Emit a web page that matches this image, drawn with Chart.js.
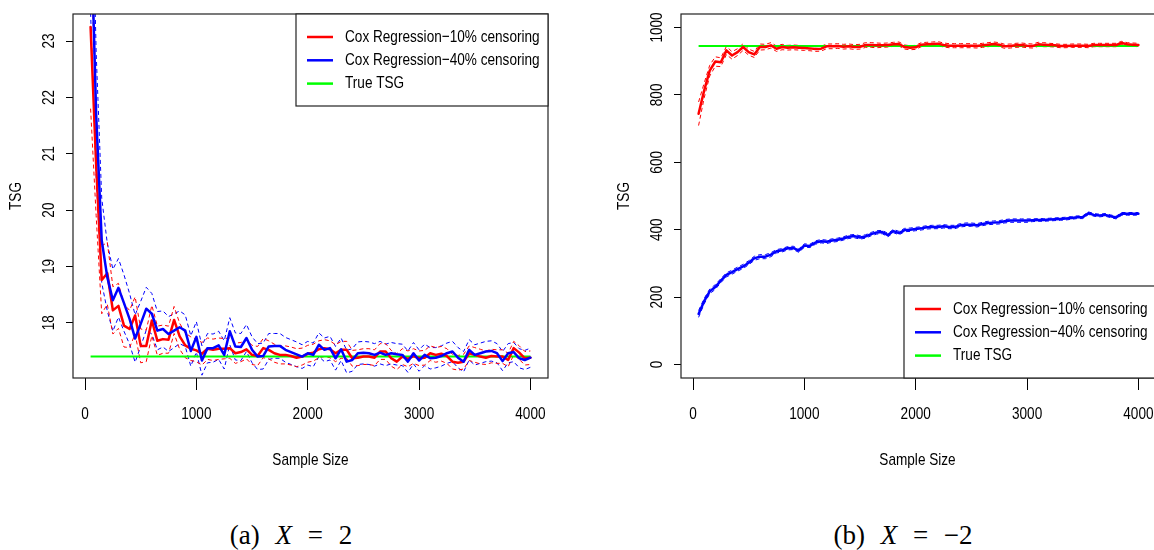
<!DOCTYPE html>
<html>
<head>
<meta charset="utf-8">
<script src="https://cdn.jsdelivr.net/npm/chart.js@4.4.1/dist/chart.umd.min.js"></script>
<style>
  html, body { margin: 0; padding: 0; background: #fff; width: 1154px; height: 550px; overflow: hidden; }
  #wrap { position: relative; width: 1154px; height: 550px; }
  canvas { position: absolute; top: 0; }
  #leftChart { left: 0; }
  #rightChart { left: 580px; }
  .caption { position: absolute; top: 519px; width: 300px; text-align: center; white-space: nowrap;
             font-family: "Liberation Serif", "DejaVu Serif", serif; font-size: 27px; line-height: 32px;
             word-spacing: 9px; }
</style>
</head>
<body>
<div id="wrap">
  <canvas id="leftChart" width="560" height="480"></canvas>
  <canvas id="rightChart" width="590" height="480"></canvas>
  <div class="caption" style="left:141px">(a) <i>X</i> = 2</div>
  <div class="caption" style="left:753px">(b) <i>X</i> = −2</div>
</div>
<script>
// sample sizes on the x axis
const sampleSizes = [
  50, 100, 150, 200, 250, 300, 350, 400, 450, 500,
  550, 600, 650, 700, 750, 800, 850, 900, 950, 1000,
  1050, 1100, 1150, 1200, 1250, 1300, 1350, 1400, 1450, 1500,
  1550, 1600, 1650, 1700, 1750, 1800, 1850, 1900, 1950, 2000,
  2050, 2100, 2150, 2200, 2250, 2300, 2350, 2400, 2450, 2500,
  2550, 2600, 2650, 2700, 2750, 2800, 2850, 2900, 2950, 3000,
  3050, 3100, 3150, 3200, 3250, 3300, 3350, 3400, 3450, 3500,
  3550, 3600, 3650, 3700, 3750, 3800, 3850, 3900, 3950, 4000
];
const xTicks = [0, 1000, 2000, 3000, 4000];

// (a) X = 2
const leftYTicks = [18, 19, 20, 21, 22, 23];
const leftTrueTsg = 17.4;
const leftCox10 = [
  23.25, 20.80, 18.76, 18.88, 18.22, 18.30, 17.95, 17.89, 18.13, 17.59,
  17.59, 18.04, 17.68, 17.71, 17.70, 18.05, 17.76, 17.60, 17.54, 17.51,
  17.45, 17.54, 17.52, 17.54, 17.54, 17.55, 17.46, 17.48, 17.53, 17.43,
  17.41, 17.55, 17.52, 17.46, 17.43, 17.43, 17.41, 17.38, 17.40, 17.45,
  17.47, 17.53, 17.55, 17.53, 17.46, 17.52, 17.52, 17.37, 17.38, 17.40,
  17.40, 17.38, 17.49, 17.49, 17.37, 17.31, 17.40, 17.36, 17.41, 17.37,
  17.38, 17.46, 17.43, 17.45, 17.41, 17.31, 17.29, 17.31, 17.46, 17.43,
  17.40, 17.38, 17.41, 17.40, 17.40, 17.34, 17.55, 17.47, 17.37, 17.38
];
const leftCox40 = [
  25.30, 21.70, 19.46, 18.81, 18.40, 18.62, 18.35, 18.07, 17.72, 17.98,
  18.25, 18.16, 17.86, 17.89, 17.80, 17.86, 17.92, 17.86, 17.50, 17.75,
  17.33, 17.55, 17.55, 17.60, 17.43, 17.85, 17.58, 17.57, 17.73, 17.52,
  17.40, 17.41, 17.58, 17.59, 17.59, 17.52, 17.48, 17.44, 17.40, 17.46,
  17.43, 17.61, 17.52, 17.55, 17.37, 17.53, 17.31, 17.34, 17.46, 17.47,
  17.46, 17.43, 17.47, 17.43, 17.46, 17.44, 17.43, 17.31, 17.46, 17.33,
  17.43, 17.37, 17.38, 17.41, 17.46, 17.49, 17.38, 17.31, 17.52, 17.43,
  17.46, 17.49, 17.50, 17.46, 17.32, 17.46, 17.48, 17.37, 17.34, 17.38
];
// half width of the dashed bands around each curve
const leftCox10Band = [
  1.45, 0.90, 0.60, 0.55, 0.42, 0.40, 0.38, 0.33, 0.33, 0.30,
  0.28, 0.27, 0.26, 0.25, 0.24, 0.24, 0.23, 0.22, 0.21, 0.20,
  0.20, 0.19, 0.19, 0.19, 0.18, 0.18, 0.18, 0.17, 0.17, 0.17,
  0.17, 0.17, 0.16, 0.16, 0.16, 0.16, 0.16, 0.16, 0.15, 0.15,
  0.15, 0.15, 0.15, 0.15, 0.15, 0.15, 0.15, 0.14, 0.14, 0.14,
  0.14, 0.14, 0.14, 0.14, 0.14, 0.14, 0.14, 0.14, 0.13, 0.13,
  0.13, 0.13, 0.13, 0.13, 0.13, 0.13, 0.13, 0.13, 0.13, 0.13,
  0.13, 0.12, 0.12, 0.12, 0.12, 0.12, 0.12, 0.12, 0.12, 0.12
];
const leftCox40Band = [
  1.80, 1.10, 0.75, 0.60, 0.55, 0.52, 0.50, 0.45, 0.42, 0.40,
  0.38, 0.36, 0.34, 0.32, 0.31, 0.30, 0.29, 0.28, 0.27, 0.27,
  0.26, 0.26, 0.25, 0.25, 0.25, 0.24, 0.24, 0.24, 0.24, 0.23,
  0.23, 0.23, 0.23, 0.22, 0.22, 0.22, 0.22, 0.22, 0.21, 0.21,
  0.21, 0.21, 0.21, 0.21, 0.21, 0.20, 0.20, 0.20, 0.20, 0.20,
  0.20, 0.20, 0.20, 0.19, 0.19, 0.19, 0.19, 0.19, 0.19, 0.19,
  0.19, 0.19, 0.18, 0.18, 0.18, 0.18, 0.18, 0.18, 0.18, 0.18,
  0.18, 0.18, 0.18, 0.17, 0.17, 0.17, 0.17, 0.17, 0.17, 0.17
];

// (b) X = -2
const rightYTicks = [0, 200, 400, 600, 800, 1000];
const rightTrueTsg = 945;
const rightCox10 = [
  744, 813, 872, 899, 897, 932, 917, 927, 942, 927,
  920, 942, 942, 947, 937, 942, 940, 941, 940, 939,
  938, 936, 937, 944, 944, 945, 943, 944, 942, 943,
  948, 948, 947, 947, 948, 950, 951, 942, 940, 941,
  949, 950, 951, 952, 948, 946, 946, 946, 946, 946,
  945, 947, 949, 951, 949, 944, 945, 947, 948, 946,
  945, 950, 949, 948, 947, 945, 945, 946, 946, 946,
  945, 948, 948, 948, 948, 948, 954, 950, 949, 948
];
const rightCox40 = [
  150, 188, 217, 230, 249, 266, 274, 283, 291, 302,
  315, 320, 320, 326, 336, 339, 345, 346, 338, 353,
  352, 362, 366, 364, 368, 370, 374, 379, 381, 377,
  380, 387, 392, 393, 384, 396, 390, 399, 400, 402,
  404, 407, 408, 408, 410, 408, 408, 413, 415, 415,
  413, 417, 420, 421, 422, 425, 427, 427, 427, 427,
  428, 429, 429, 430, 431, 432, 433, 435, 437, 437,
  449, 444, 442, 444, 440, 436, 447, 447, 447, 447
];
const rightCox10Band = [
  35, 22, 16, 14, 13, 12, 11, 10, 10, 9,
  9, 9, 8, 8, 8, 8, 7, 7, 7, 7,
  7, 7, 7, 7, 7, 7, 7, 7, 7, 7,
  7, 7, 7, 6, 6, 6, 6, 6, 6, 6,
  6, 6, 6, 6, 6, 6, 6, 6, 6, 6,
  6, 6, 6, 6, 6, 6, 6, 6, 6, 6,
  6, 6, 6, 5, 5, 5, 5, 5, 5, 5,
  5, 5, 5, 5, 5, 5, 5, 5, 5, 5
];
const rightCox40Band = [
  10, 8, 7, 7, 6, 6, 6, 6, 6, 6,
  6, 6, 6, 6, 5, 5, 5, 5, 5, 5,
  5, 5, 5, 5, 5, 5, 5, 5, 5, 5,
  5, 5, 5, 5, 5, 5, 5, 5, 5, 5,
  5, 5, 5, 5, 5, 5, 5, 5, 5, 5,
  5, 5, 5, 5, 5, 5, 5, 5, 5, 5,
  4, 4, 4, 4, 4, 4, 4, 4, 4, 4,
  4, 4, 4, 4, 4, 4, 4, 4, 4, 4
];

const RED = '#ff0000';
const BLUE = '#0000ff';
const GREEN = '#00ff00';
const FONT = '17px "Liberation Sans", Arial, sans-serif';
const SQUEEZE = 0.8; // R text in the figure is narrow

Chart.defaults.color = '#000';

const toPoints = ys => ys.map((y, i) => ({ x: sampleSizes[i], y: y }));
const offsetPoints = (ys, half, sign) => ys.map((y, i) => ({ x: sampleSizes[i], y: y + sign * half[i] }));

function narrowText(ctx, text, x, y, angle, align) {
  ctx.save();
  ctx.translate(x, y);
  if (angle) ctx.rotate(angle);
  ctx.scale(SQUEEZE, 1);
  ctx.font = FONT;
  ctx.fillStyle = '#000';
  ctx.textAlign = align || 'center';
  ctx.textBaseline = 'middle';
  ctx.fillText(text, 0, 0);
  ctx.restore();
}

// R style box round the plot region
const boxPlugin = {
  id: 'rBox',
  afterDatasetsDraw(chart) {
    const a = chart.chartArea;
    const ctx = chart.ctx;
    ctx.save();
    ctx.strokeStyle = '#222';
    ctx.lineWidth = 1.2;
    ctx.strokeRect(a.left, a.top, a.right - a.left, a.bottom - a.top);
    ctx.restore();
  }
};

// tick labels and axis titles, R style (y labels parallel to the axis)
const axisTextPlugin = {
  id: 'rAxisText',
  afterDraw(chart) {
    const ctx = chart.ctx;
    const a = chart.chartArea;
    const xs = chart.scales.x, ys = chart.scales.y;
    xs.ticks.forEach(t => narrowText(ctx, String(t.value), xs.getPixelForValue(t.value), a.bottom + 36, 0));
    ys.ticks.forEach(t => narrowText(ctx, String(t.value), a.left - 24, ys.getPixelForValue(t.value), -Math.PI / 2));
    narrowText(ctx, 'Sample Size', (a.left + a.right) / 2 + (chart.canvas.id === 'rightChart' ? -1 : 0), a.bottom + 82, 0);
    narrowText(ctx, 'TSG', a.left - 57, (a.top + a.bottom) / 2, -Math.PI / 2);
  }
};

// legend box inside the plot
const legendPlugin = {
  id: 'rLegend',
  afterDraw(chart, args, opts) {
    const ctx = chart.ctx;
    const a = chart.chartArea;
    const items = chart.data.datasets.filter(d => d.label);
    const w = 252, h = 92;
    const x0 = Math.round(a.right - w);
    const y0 = opts.corner === 'topright' ? a.top : a.bottom - h;
    ctx.save();
    ctx.fillStyle = '#fff';
    ctx.fillRect(x0, y0, w, h);
    ctx.strokeStyle = '#222';
    ctx.lineWidth = 1.2;
    ctx.strokeRect(x0, y0, w, h);
    items.forEach((d, i) => {
      const yy = y0 + 23 + i * 23.3;
      ctx.strokeStyle = d.borderColor;
      ctx.lineWidth = 2.5;
      ctx.beginPath();
      ctx.moveTo(x0 + 11, yy);
      ctx.lineTo(x0 + 37, yy);
      ctx.stroke();
      narrowText(ctx, d.label, x0 + 49, yy, 0, 'left');
    });
    ctx.restore();
  }
};

function meanSet(label, ys, color, order) {
  return { label, data: toPoints(ys), borderColor: color, borderWidth: 2.5, pointRadius: 0,
           borderJoinStyle: 'round', borderCapStyle: 'round', tension: 0, order };
}
function bandSet(data, color) {
  return { label: '', data, borderColor: color, borderWidth: 1, borderDash: [4, 3], pointRadius: 0, tension: 0, order: 4 };
}

function makePanel(canvasId, mean10, mean40, band10, band40, trueTsg, yMin, yMax, yTicks, padLeft, corner) {
  const trueLine = [{ x: sampleSizes[0], y: trueTsg }, { x: sampleSizes[sampleSizes.length - 1], y: trueTsg }];
  const canvas = document.getElementById(canvasId);
  return new Chart(canvas, {
    type: 'line',
    data: {
      datasets: [
        meanSet('Cox Regression\u221210% censoring', mean10, RED, 2),
        meanSet('Cox Regression\u221240% censoring', mean40, BLUE, 1),
        { label: 'True TSG', data: trueLine, borderColor: GREEN, borderWidth: 2, pointRadius: 0, order: 3 },
        bandSet(offsetPoints(mean10, band10, 1), RED),
        bandSet(offsetPoints(mean10, band10, -1), RED),
        bandSet(offsetPoints(mean40, band40, 1), BLUE),
        bandSet(offsetPoints(mean40, band40, -1), BLUE)
      ]
    },
    options: {
      responsive: false,
      animation: false,
      events: [],
      layout: { padding: { left: padLeft, top: 14, right: canvas.width - padLeft - 73 - 475, bottom: 0 } },
      plugins: {
        legend: { display: false },
        tooltip: { enabled: false },
        rLegend: { corner: corner }
      },
      scales: {
        x: {
          type: 'linear', min: -108, max: 4158,
          afterBuildTicks: s => { s.ticks = xTicks.map(v => ({ value: v })); },
          afterFit: s => { s.height = 102; },
          grid: { drawOnChartArea: false, drawTicks: true, tickLength: 12, color: '#000', lineWidth: 1 },
          border: { display: false },
          ticks: { display: false }
        },
        y: {
          type: 'linear', min: yMin, max: yMax,
          afterBuildTicks: s => { s.ticks = yTicks.map(v => ({ value: v })); },
          afterFit: s => { s.width = 73; },
          grid: { drawOnChartArea: false, drawTicks: true, tickLength: 7, color: '#000', lineWidth: 1 },
          border: { display: false },
          ticks: { display: false }
        }
      }
    },
    plugins: [boxPlugin, axisTextPlugin, legendPlugin]
  });
}

makePanel('leftChart', leftCox10, leftCox40, leftCox10Band, leftCox40Band, leftTrueTsg,
  17.02, 23.48, leftYTicks, 0, 'topright');
makePanel('rightChart', rightCox10, rightCox40, rightCox10Band, rightCox40Band, rightTrueTsg,
  -40, 1040, rightYTicks, 28, 'bottomright');
</script>
</body>
</html>
